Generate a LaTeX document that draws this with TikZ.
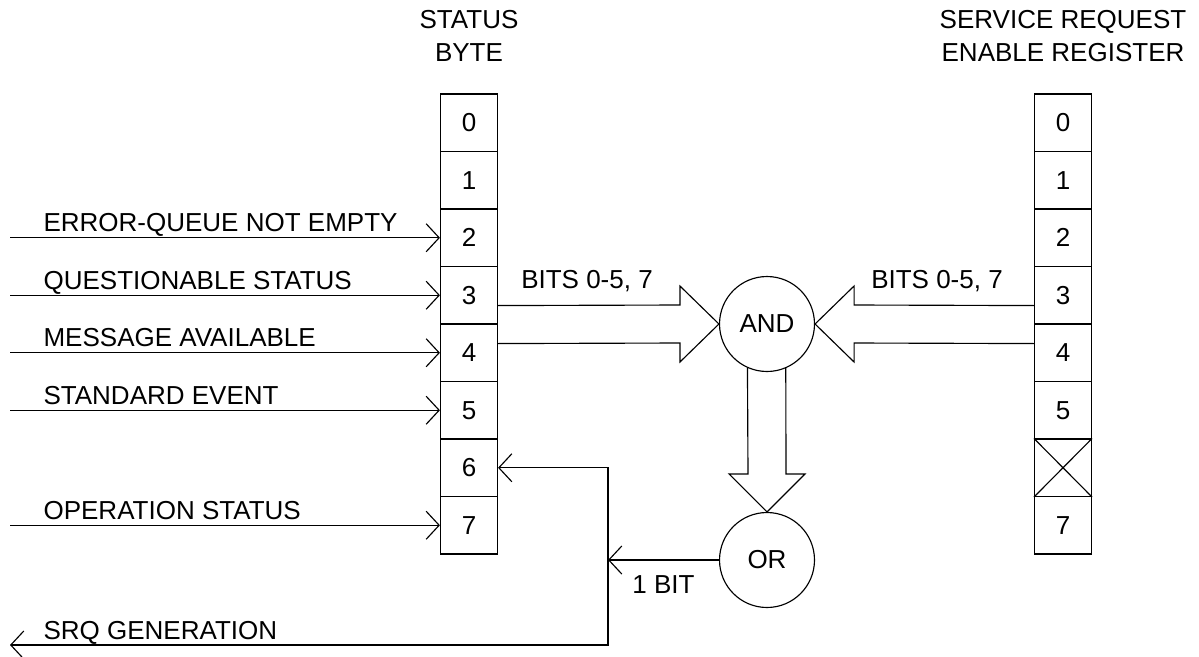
\documentclass[tikz,border=0pt]{standalone}
\usepackage{fontspec}
\setmainfont{Liberation Sans}
\usetikzlibrary{arrows.meta}
\usetikzlibrary{positioning}

\tikzset{
  cell/.style={draw, minimum width=1.14cm, minimum height=1.15cm, inner sep=0pt},
  gate/.style={draw, circle, minimum size=1.9cm, inner sep=0pt},
  lbl/.style={inner sep=0pt},
  regtitle/.style={align=center, inner sep=0pt},
}

\begin{document}
\begin{tikzpicture}[x=0.02cm, y=-0.02cm, line width=0.65pt,
    >={Straight Barb[length=0.26cm, width=0.56cm]},
    font=\fontsize{14.8}{18.8}\selectfont]
\useasboundingbox (0,0) rectangle (1199,656);

% status byte and enable register
\foreach \i in {0,...,7}
  \node[cell] (sb\i) at (469, 122.75+57.5*\i) {\i};
\foreach \i in {0,1,2,3,4,5,7}
  \node[cell] (se\i) at (1063, 122.75+57.5*\i) {\i};
\node[cell] (se6) at (1063, 122.75+57.5*6) {};
\draw (se6.north west) -- (se6.south east)
      (se6.north east) -- (se6.south west);

\node[regtitle, above=0.62cm of sb0] (sbtitle) {STATUS\\BYTE};
\node[regtitle, above=0.62cm of se0] (setitle) {SERVICE REQUEST\\ENABLE REGISTER};

% gates
\node[gate] (and) at (767,324) {AND};
\node[gate] (or) at (767,560) {OR};

\node (bitsl) at (587,281) {BITS 0-5, 7};
\node (bitsr) at (937,281) {BITS 0-5, 7};

% inputs into the status byte
\coordinate (left) at (10,0);
\foreach \i/\txt in {2/ERROR-QUEUE NOT EMPTY, 3/QUESTIONABLE STATUS,
                     4/MESSAGE AVAILABLE, 5/STANDARD EVENT, 7/OPERATION STATUS}
  \draw[->] (left |- sb\i.west)
    node[lbl, anchor=base west, xshift=0.66cm, yshift=0.12cm] (in\i) {\txt}
    -- (sb\i.west);

% wide arrows into and out of the AND gate
\draw (sb3.south east) ++(0,-19)
  -- ([shift={(-39,-19)}]and.west)
  -- ++(0,-19)
  -- (and.west)
  -- ([shift={(-39,38)}]and.west)
  -- ++(0,-19)
  -- ([shift={(0,19)}]sb3.south east);
\draw (se3.south west) ++(0,-19)
  -- ([shift={(39,-19)}]and.east)
  -- ++(0,-19)
  -- (and.east)
  -- ([shift={(39,38)}]and.east)
  -- ++(0,-19)
  -- ([shift={(0,19)}]se3.south west);
\draw (and.246.4)
  -- ([shift={(-19,-38)}]or.north)
  -- ++(-19,0)
  -- (or.north)
  -- ([shift={(38,-38)}]or.north)
  -- ++(-19,0)
  -- (and.293.6);

% summary bit back to bit 6 and out as SRQ
\coordinate (junc) at (608,645);
\draw[->] (or.west) -- node[lbl, below=0.3cm] (onebit) {1 BIT} (or.west -| junc);
\draw[<->] (sb6.east) -- (sb6.east -| junc) -- (junc) -- (left |- junc)
  node[lbl, anchor=base west, xshift=0.66cm, yshift=0.12cm] (srq) {SRQ GENERATION};
\end{tikzpicture}
\end{document}
